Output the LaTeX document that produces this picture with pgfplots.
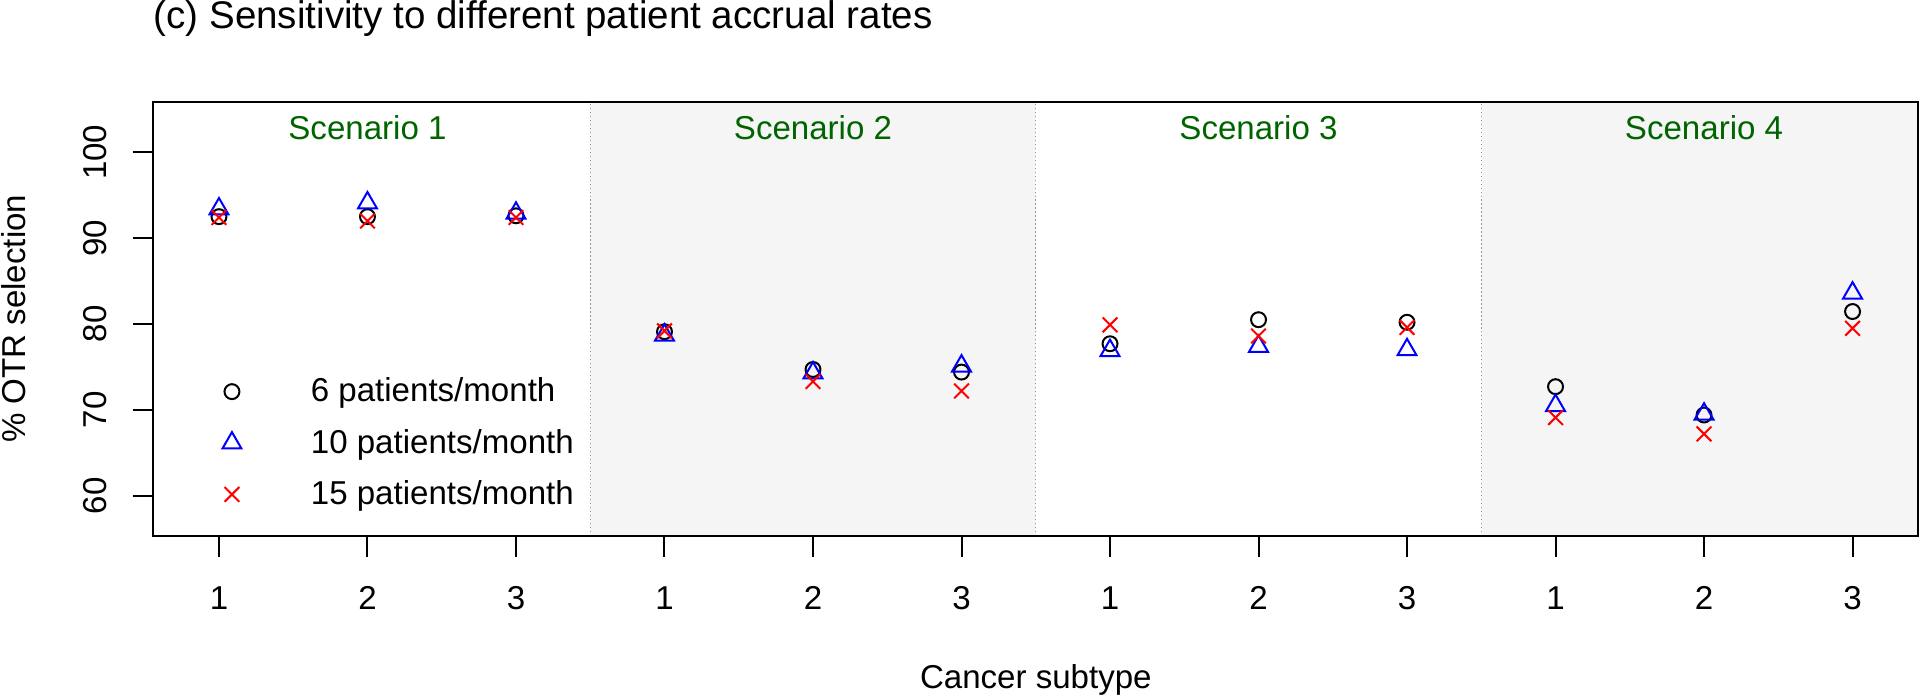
\documentclass[border=0pt]{standalone}
\usepackage{pgfplots}
\pgfplotsset{compat=1.18}
\usepackage{fontspec}
\setmainfont{Liberation Sans}
\definecolor{bggray}{RGB}{245,245,245}
\definecolor{scgreen}{RGB}{0,100,0}
\definecolor{divgray}{RGB}{150,150,150}
\newcommand\basefont{\fontsize{12.45pt}{15pt}\selectfont}
\newcommand\titlefont{\fontsize{14.5pt}{17.5pt}\selectfont}
\pgfplotsset{mylegimg/.style={legend image code/.code={\path[draw=none,fill=none] (-4.6bp,-4.6bp) rectangle (4.6bp,4.6bp); \draw[##1] plot coordinates {(0bp,0bp)};}}}
\begin{document}
\begin{tikzpicture}
\begin{axis}[
  scale only axis, width=661.875bp, height=162.86bp,
  xmin=0.558, xmax=12.443, ymin=55.31, ymax=105.89,
  axis on top, clip=false,
  xtick={1,2,3,4,5,6,7,8,9,10,11,12},
  xticklabels={1,2,3,1,2,3,1,2,3,1,2,3},
  ytick={60,70,80,90,100},
  tick pos=left, tick align=outside, major tick length=7.76bp,
  tick style={black, line width=0.75bp},
  axis line style={black, line width=0.75bp},
  /pgf/number format/assume math mode=true,
  xticklabel style={font=\basefont, anchor=base, inner sep=0pt, yshift=-19.64bp},
  yticklabel style={font=\basefont, xshift=-9.74bp, rotate=90, anchor=base, inner sep=0pt},
  xlabel={Cancer subtype},
  xlabel style={at={(axis description cs:0.5,-0.3507)}, anchor=base, inner sep=0pt, font=\basefont},
  ylabel={\% OTR selection},
  ylabel style={at={(axis description cs:-0.07268,0.5)}, anchor=base, inner sep=0pt, font=\basefont},
  title={(c) Sensitivity to different patient accrual rates},
  every axis title shift=0pt,
  title style={at={(axis description cs:0,1.169)}, anchor=base west, inner sep=0pt, yshift=0pt, font=\titlefont},
  legend style={draw=none, fill=none, inner sep=0pt, at={(axis description cs:0.0373,0.378)},
    anchor=north west, font=\basefont, row sep=4.8bp, column sep=23bp},
  legend cell align=left,
]
% shaded scenario backgrounds
\addplot[fill=bggray, draw=none, forget plot] coordinates {(3.5,55.31) (6.5,55.31) (6.5,105.89) (3.5,105.89) (3.5,55.31)};
\addplot[fill=bggray, draw=none, forget plot] coordinates {(9.5,55.31) (12.443,55.31) (12.443,105.89) (9.5,105.89) (9.5,55.31)};
% dividers
\addplot[divgray, densely dotted, line width=0.5bp, forget plot] coordinates {(3.5,55.31) (3.5,105.89)};
\addplot[divgray, densely dotted, line width=0.5bp, forget plot] coordinates {(6.5,55.31) (6.5,105.89)};
\addplot[divgray, densely dotted, line width=0.5bp, forget plot] coordinates {(9.5,55.31) (9.5,105.89)};
% data
\addplot[only marks, mark=o, black, mark size=2.8bp, line width=0.75bp, mylegimg]
  coordinates {(1,92.5) (2,92.5) (3,92.6) (4,79.1) (5,74.7) (6,74.4) (7,77.7) (8,80.5) (9,80.2) (10,72.7) (11,69.4) (12,81.45)};
\addlegendentry{6 patients/month}
\addplot[only marks, mark=triangle, blue, mark size=4.1bp, line width=0.75bp, mylegimg]
  coordinates {(1,93.4) (2,94.1) (3,92.9) (4,78.7) (5,74.3) (6,75.1) (7,76.9) (8,77.4) (9,77.0) (10,70.5) (11,69.5) (12,83.6)};
\addlegendentry{10 patients/month}
\addplot[only marks, mark=x, red, mark size=3.9bp, line width=0.75bp, mylegimg]
  coordinates {(1,92.4) (2,92.0) (3,92.4) (4,79.2) (5,73.3) (6,72.2) (7,79.9) (8,78.6) (9,79.6) (10,69.1) (11,67.2) (12,79.5)};
\addlegendentry{15 patients/month}
% scenario labels
\node[anchor=base, inner sep=0pt, text=scgreen, font=\basefont] at (axis cs:2,101.52) {Scenario 1};
\node[anchor=base, inner sep=0pt, text=scgreen, font=\basefont] at (axis cs:5,101.52) {Scenario 2};
\node[anchor=base, inner sep=0pt, text=scgreen, font=\basefont] at (axis cs:8,101.52) {Scenario 3};
\node[anchor=base, inner sep=0pt, text=scgreen, font=\basefont] at (axis cs:11,101.52) {Scenario 4};
\end{axis}
\pgfresetboundingbox
\path (-57.5bp,-60.375bp) rectangle (662.5bp,201bp);
\end{tikzpicture}
\end{document}
